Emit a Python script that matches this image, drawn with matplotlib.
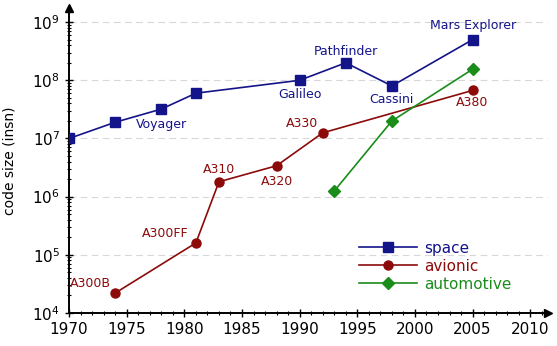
import matplotlib
matplotlib.use("Agg")
import matplotlib.pyplot as plt
from matplotlib.ticker import LogLocator, MultipleLocator, NullFormatter

space_years = [1970, 1974, 1978, 1981, 1990, 1994, 1998, 2005]
space_vals = [1.0e7, 1.9e7, 3.2e7, 6.0e7, 1.0e8, 2.0e8, 8.0e7, 5.0e8]
space_labels = [None, None, "Voyager", None, "Galileo", "Pathfinder", "Cassini", "Mars Explorer"]

avio_years = [1974, 1981, 1983, 1988, 1992, 2005]
avio_vals = [2.2e4, 1.6e5, 1.8e6, 3.4e6, 1.25e7, 6.7e7]
avio_labels = ["A300B", "A300FF", "A310", "A320", "A330", "A380"]

auto_years = [1993, 1998, 2005]
auto_vals = [1.25e6, 2.0e7, 1.55e8]

x_ticks = [1970, 1975, 1980, 1985, 1990, 1995, 2000, 2005, 2010]

c_space = "#14148a"
c_avio = "#8c0a0a"
c_auto = "#1a8c1a"

fig = plt.figure(figsize=(5.57, 3.46), dpi=100)
ax = fig.add_axes([0.124, 0.0954, 0.859, 0.881])

ax.set_yscale("log")
ax.set_xlim(1970, 2011.5)
ax.set_ylim(1e4, 10 ** 9.24)

for e in range(5, 10):
    ax.axhline(10 ** e, color="#d8d8d8", lw=0.8, ls=(0, (6, 4)), zorder=0)

ax.plot(space_years, space_vals, color=c_space, marker="s", ms=6.5, lw=1.2, label="space", zorder=3)
ax.plot(avio_years, avio_vals, color=c_avio, marker="o", ms=6.5, lw=1.2, label="avionic", zorder=3)
ax.plot(auto_years, auto_vals, color=c_auto, marker="D", ms=6, lw=1.2, label="automotive", zorder=3)

space_off = {"Voyager": (0, -11), "Galileo": (0, -10), "Pathfinder": (0, 8),
             "Cassini": (0, -10), "Mars Explorer": (0, 10)}
for x, y, lab in zip(space_years, space_vals, space_labels):
    if lab:
        ax.annotate(lab, (x, y), xytext=space_off[lab], textcoords="offset points",
                    ha="center", va="center", color=c_space, fontsize=9)

avio_off = {"A300B": (-18, 7), "A300FF": (-22, 7), "A310": (0, 9),
            "A320": (0, -11), "A330": (-15, 7), "A380": (0, -9)}
for x, y, lab in zip(avio_years, avio_vals, avio_labels):
    ax.annotate(lab, (x, y), xytext=avio_off[lab], textcoords="offset points",
                ha="center", va="center", color=c_avio, fontsize=9)

for s in ["top", "right"]:
    ax.spines[s].set_visible(False)
ax.spines["left"].set_linewidth(1.4)
ax.spines["bottom"].set_linewidth(1.4)
ax.plot(1, 0, ">k", transform=ax.transAxes, clip_on=False, ms=6)
ax.plot(0, 1, "^k", transform=ax.transAxes, clip_on=False, ms=6)

ax.set_xticks(x_ticks)
ax.xaxis.set_minor_locator(MultipleLocator(1))
ax.yaxis.set_major_locator(LogLocator(base=10, numticks=10))
ax.yaxis.set_minor_locator(LogLocator(base=10, subs=range(2, 10), numticks=20))
ax.yaxis.set_minor_formatter(NullFormatter())
ax.tick_params(axis="both", which="major", direction="inout", length=6, width=1, labelsize=11)
ax.tick_params(axis="both", which="minor", direction="inout", length=3, width=0.8)

ax.set_ylabel("code size (insn)", fontsize=10)
ax.yaxis.set_label_coords(-0.11, 0.5)

leg = ax.legend(loc="lower left", bbox_to_anchor=(0.605, 0.07), frameon=False,
                borderpad=0, borderaxespad=0,
                fontsize=11, handlelength=3.8, labelspacing=0.2, handletextpad=0.5)
for t, c in zip(leg.get_texts(), [c_space, c_avio, c_auto]):
    t.set_color(c)

fig.savefig("out.png", dpi=100)
